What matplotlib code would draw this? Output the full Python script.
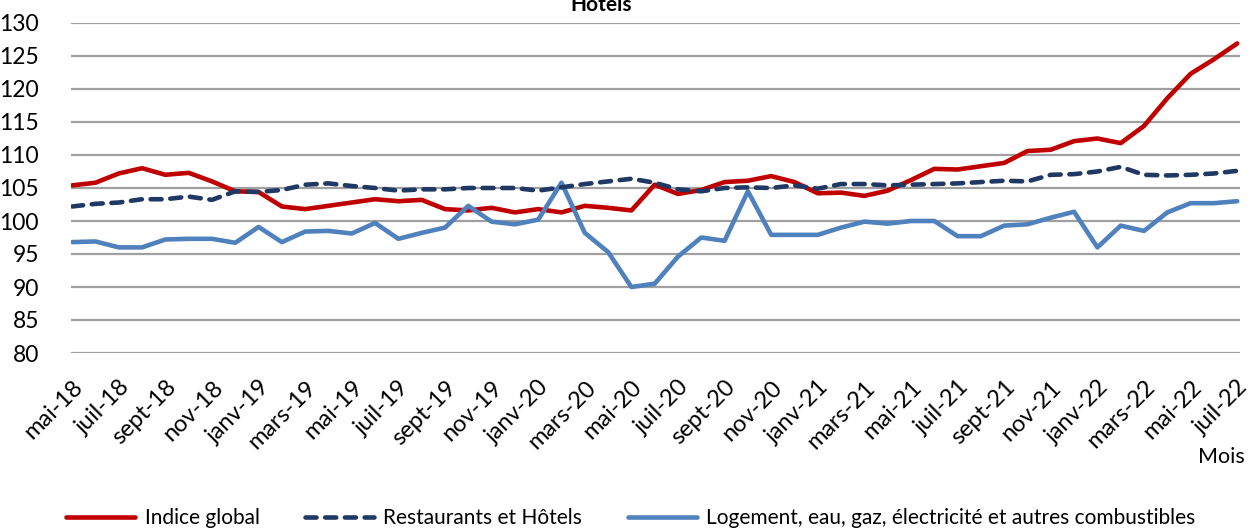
import matplotlib
matplotlib.use("Agg")
import matplotlib.pyplot as plt
import numpy as np

plt.rcParams['font.family'] = ['Lato', 'DejaVu Sans']

months = ["mai-18", "juin-18", "juil-18", "août-18", "sept-18", "oct-18", "nov-18", "déc-18",
          "janv-19", "févr-19", "mars-19", "avr-19", "mai-19", "juin-19", "juil-19", "août-19",
          "sept-19", "oct-19", "nov-19", "déc-19", "janv-20", "févr-20", "mars-20", "avr-20",
          "mai-20", "juin-20", "juil-20", "août-20", "sept-20", "oct-20", "nov-20", "déc-20",
          "janv-21", "févr-21", "mars-21", "avr-21", "mai-21", "juin-21", "juil-21", "août-21",
          "sept-21", "oct-21", "nov-21", "déc-21", "janv-22", "févr-22", "mars-22", "avr-22",
          "mai-22", "juin-22", "juil-22"]

indice_global = [105.4, 105.8, 107.2, 108.0, 107.0, 107.3, 106.0, 104.5, 104.4, 102.2,
                 101.8, 102.3, 102.8, 103.3, 103.0, 103.2, 101.8, 101.6, 102.0, 101.3,
                 101.8, 101.3, 102.3, 102.0, 101.6, 105.5, 104.1, 104.7, 105.9, 106.1,
                 106.8, 105.9, 104.2, 104.3, 103.8, 104.6, 106.2, 107.9, 107.8, 108.3,
                 108.8, 110.6, 110.8, 112.1, 112.5, 111.8, 114.4, 118.6, 122.3, 124.5,
                 126.9]

restaurants_hotels = [102.2, 102.6, 102.8, 103.3, 103.3, 103.7, 103.2, 104.5, 104.4, 104.7,
                      105.5, 105.7, 105.3, 105.0, 104.6, 104.8, 104.8, 105.0, 105.0, 105.0,
                      104.6, 105.1, 105.6, 106.0, 106.4, 105.8, 104.8, 104.5, 105.0, 105.1,
                      105.0, 105.4, 104.9, 105.6, 105.6, 105.4, 105.5, 105.6, 105.7, 105.9,
                      106.1, 106.0, 107.0, 107.1, 107.5, 108.2, 107.0, 106.9, 107.0, 107.2,
                      107.6]

logement = [96.8, 96.9, 96.0, 96.0, 97.2, 97.3, 97.3, 96.7, 99.1, 96.8,
            98.4, 98.5, 98.1, 99.7, 97.3, 98.2, 99.0, 102.3, 99.9, 99.5,
            100.2, 105.8, 98.2, 95.3, 90.0, 90.5, 94.6, 97.5, 97.0, 104.5,
            97.9, 97.9, 97.9, 99.0, 99.9, 99.6, 100.0, 100.0, 97.7, 97.7,
            99.3, 99.5, 100.5, 101.4, 96.0, 99.3, 98.5, 101.3, 102.7, 102.7,
            103.0]

yticks = list(range(80, 131, 5))

W, H = 1253, 531
fig = plt.figure(figsize=(W / 100, H / 100), dpi=100)
ax = fig.add_axes([71 / W, (H - 353) / H, (1240 - 71) / W, 330 / H])

x = np.arange(len(months))
lw = 3.3
ax.plot(x, indice_global, color='#C00000', lw=lw, solid_joinstyle='round',
        solid_capstyle='round', label='Indice global', zorder=3)
ax.plot(x, restaurants_hotels, color='#1F3864', lw=lw, dashes=(2.4, 1.9),
        dash_capstyle='round', dash_joinstyle='round', label='Restaurants et Hôtels', zorder=4)
ax.plot(x, logement, color='#4F81BD', lw=lw, solid_joinstyle='round',
        solid_capstyle='round',
        label='Logement, eau, gaz, électricité et autres combustibles', zorder=3)

ax.set_ylim(80, 130)
ax.set_yticks(yticks)
ax.set_xlim(-0.05, len(months) - 1 + 0.12)
ax.set_xticks(x[::2])
ax.set_xticklabels(months[::2], rotation=45, ha='right', va='top',
                   rotation_mode='anchor', fontsize=17)
ax.tick_params(axis='x', length=0, pad=17)
ax.tick_params(axis='y', length=0, pad=23, labelsize=16.5)
for s in ax.spines.values():
    s.set_visible(False)
ax.grid(axis='y', color='#A0A0A0', lw=1.6)
ax.set_axisbelow(True)

fig.text(1245 / W, 1 - 457 / H, 'Mois', ha='right', va='center', fontsize=15.5)
fig.text(601 / W, 1 - 11 / H, 'Hôtels', ha='center', va='baseline', fontsize=15,
         fontweight='bold')

fig.legend(loc='center', bbox_to_anchor=(631 / W, 13 / H), ncol=3, frameon=False,
           fontsize=15, handlelength=3.3, handletextpad=0.45, columnspacing=2.2,
           borderaxespad=0, borderpad=0)

fig.savefig('out.png', dpi=100)
